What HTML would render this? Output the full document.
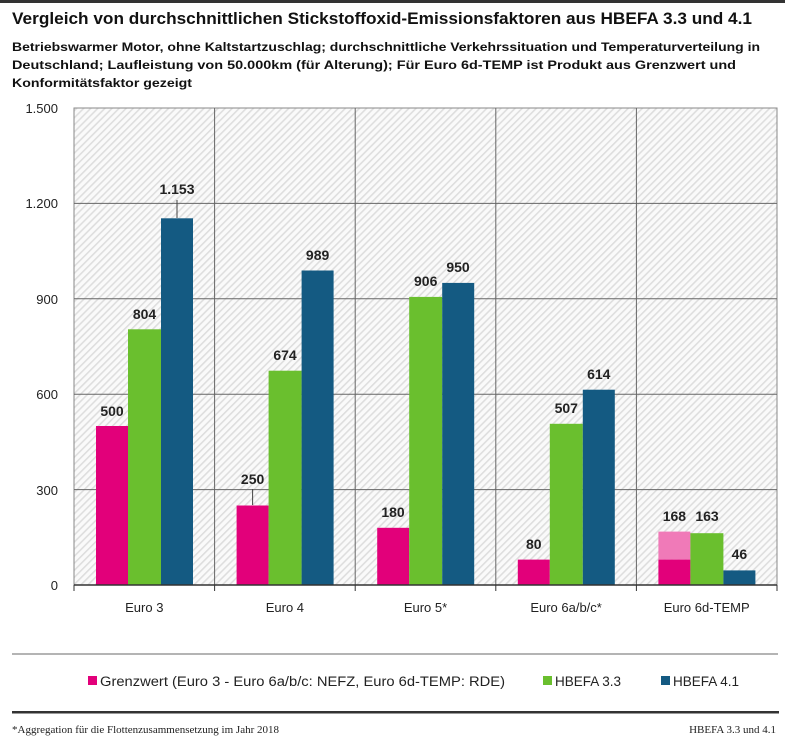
<!DOCTYPE html>
<html><head><meta charset="utf-8"><style>
html,body{margin:0;padding:0;background:#fff;width:785px;height:740px;overflow:hidden}
svg{display:block;font-family:"Liberation Sans",sans-serif}
</style></head><body>
<svg width="785" height="740" viewBox="0 0 785 740" xmlns="http://www.w3.org/2000/svg">
<defs>
<pattern id="h" width="5" height="5" patternUnits="userSpaceOnUse" patternTransform="rotate(45)">
<rect width="5" height="5" fill="#fafafa"/><rect width="1.6" height="5" fill="#dedede"/>
</pattern>
</defs>
<rect x="0" y="0" width="785" height="3" fill="#333"/>
<text x="12" y="24" font-size="17" font-weight="bold" fill="#111" textLength="740" lengthAdjust="spacingAndGlyphs">Vergleich von durchschnittlichen  Stickstoffoxid-Emissionsfaktoren aus HBEFA 3.3 und 4.1</text>
<g font-size="12" font-weight="bold" fill="#111">
<text x="12" y="51" textLength="748" lengthAdjust="spacingAndGlyphs">Betriebswarmer Motor, ohne Kaltstartzuschlag; durchschnittliche Verkehrssituation und Temperaturverteilung in</text>
<text x="12" y="69" textLength="724" lengthAdjust="spacingAndGlyphs">Deutschland; Laufleistung von 50.000km (für Alterung); Für Euro 6d-TEMP ist Produkt aus Grenzwert und</text>
<text x="12" y="87" textLength="180" lengthAdjust="spacingAndGlyphs">Konformitätsfaktor gezeigt</text>
</g>
<rect x="74" y="108" width="703" height="477" fill="url(#h)" stroke="#888" stroke-width="1"/>
<g stroke="#666" stroke-width="1">
<line x1="74" y1="203.4" x2="777" y2="203.4"/><line x1="74" y1="298.8" x2="777" y2="298.8"/>
<line x1="74" y1="394.2" x2="777" y2="394.2"/><line x1="74" y1="489.6" x2="777" y2="489.6"/>
<line x1="214.6" y1="108" x2="214.6" y2="585"/><line x1="355.2" y1="108" x2="355.2" y2="585"/>
<line x1="495.8" y1="108" x2="495.8" y2="585"/><line x1="636.4" y1="108" x2="636.4" y2="585"/>
</g>
<g font-size="13" fill="#222" text-anchor="end">
<text x="58" y="113">1.500</text><text x="58" y="208">1.200</text><text x="58" y="304">900</text>
<text x="58" y="399">600</text><text x="58" y="495">300</text><text x="58" y="590">0</text>
</g>
<g>
<rect x="96" y="426" width="32" height="159" fill="#e2007a"/>
<rect x="128" y="329.3" width="33" height="255.7" fill="#6abf2e"/>
<rect x="161" y="218.3" width="32" height="366.7" fill="#145a82"/>
<rect x="236.6" y="505.5" width="32" height="79.5" fill="#e2007a"/>
<rect x="268.6" y="370.7" width="33" height="214.3" fill="#6abf2e"/>
<rect x="301.6" y="270.5" width="32" height="314.5" fill="#145a82"/>
<rect x="377.2" y="527.8" width="32" height="57.2" fill="#e2007a"/>
<rect x="409.2" y="296.9" width="33" height="288.1" fill="#6abf2e"/>
<rect x="442.2" y="282.9" width="32" height="302.1" fill="#145a82"/>
<rect x="517.8" y="559.6" width="32" height="25.4" fill="#e2007a"/>
<rect x="549.8" y="423.8" width="33" height="161.2" fill="#6abf2e"/>
<rect x="582.8" y="389.7" width="32" height="195.3" fill="#145a82"/>
<rect x="658.4" y="531.6" width="32" height="28" fill="#f07ab8"/>
<rect x="658.4" y="559.6" width="32" height="25.4" fill="#e2007a"/>
<rect x="690.4" y="533.2" width="33" height="51.8" fill="#6abf2e"/>
<rect x="723.4" y="570.4" width="32" height="14.6" fill="#145a82"/>
</g>
<g stroke="#444" stroke-width="1">
<line x1="177" y1="200" x2="177" y2="218"/>
<line x1="252.6" y1="489" x2="252.6" y2="505"/>
</g>
<line x1="74" y1="585" x2="777" y2="585" stroke="#333" stroke-width="1.5"/>
<g stroke="#333"><line x1="74" y1="585" x2="74" y2="591"/><line x1="214.6" y1="585" x2="214.6" y2="591"/><line x1="355.2" y1="585" x2="355.2" y2="591"/><line x1="495.8" y1="585" x2="495.8" y2="591"/><line x1="636.4" y1="585" x2="636.4" y2="591"/><line x1="777" y1="585" x2="777" y2="591"/></g>
<g font-size="14" font-weight="bold" fill="#222" text-anchor="middle">
<text x="112" y="416">500</text><text x="144.5" y="319">804</text><text x="177" y="194">1.153</text>
<text x="252.6" y="484">250</text><text x="285" y="360">674</text><text x="317.6" y="260">989</text>
<text x="393" y="517">180</text><text x="425.7" y="286">906</text><text x="458" y="272">950</text>
<text x="533.8" y="549">80</text><text x="566.3" y="413">507</text><text x="598.8" y="379">614</text>
<text x="674.4" y="521">168</text><text x="707" y="521">163</text><text x="739.4" y="559">46</text>
</g>
<g font-size="13" fill="#222" text-anchor="middle">
<text x="144.3" y="612">Euro 3</text><text x="284.9" y="612">Euro 4</text><text x="425.5" y="612">Euro 5*</text>
<text x="566.1" y="612">Euro 6a/b/c*</text><text x="706.7" y="612">Euro 6d-TEMP</text>
</g>
<line x1="12" y1="654" x2="778" y2="654" stroke="#888" stroke-width="1.2"/>
<g font-size="13.5" fill="#222">
<rect x="88" y="676" width="9" height="9" fill="#e2007a"/><text x="100" y="686" textLength="405" lengthAdjust="spacingAndGlyphs">Grenzwert (Euro 3 - Euro 6a/b/c: NEFZ, Euro 6d-TEMP: RDE)</text>
<rect x="543" y="676" width="9" height="9" fill="#6abf2e"/><text x="555" y="686">HBEFA 3.3</text>
<rect x="661" y="676" width="9" height="9" fill="#145a82"/><text x="673" y="686">HBEFA 4.1</text>
</g>
<rect x="12" y="711" width="767" height="2.5" fill="#333"/>
<g font-family="'Liberation Serif',serif" font-size="11" fill="#222">
<text x="12" y="733">*Aggregation für die Flottenzusammensetzung im Jahr 2018</text>
<text x="776" y="733" text-anchor="end">HBEFA 3.3 und 4.1</text>
</g>
</svg>
</body></html>
